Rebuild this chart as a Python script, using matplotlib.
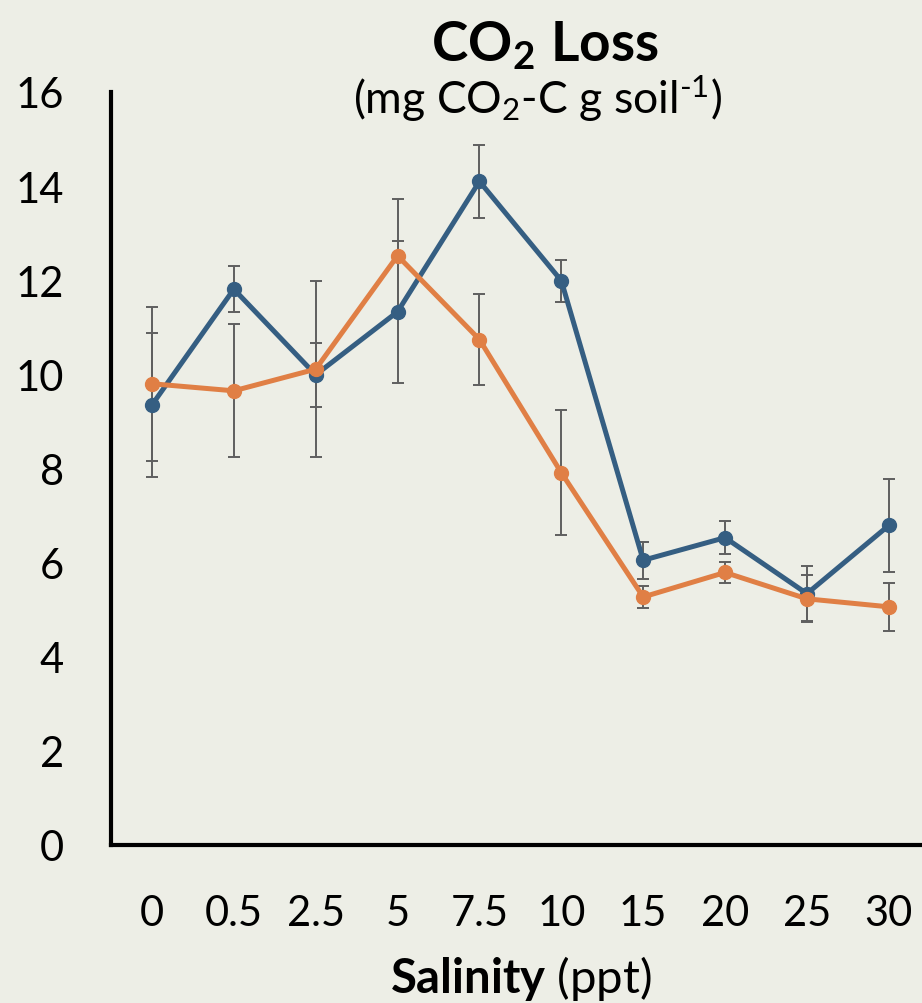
import matplotlib
matplotlib.use("Agg")
import matplotlib.pyplot as plt
import numpy

# salinity treatments (ppt), shown as categories
salinity = ["0", "0.5", "2.5", "5", "7.5", "10", "15", "20", "25", "30"]

# CO2 loss, mg CO2-C per g soil
blue_vals = [9.35, 11.81, 9.99, 11.33, 14.10, 11.99, 6.05, 6.53, 5.34, 6.79]
blue_err = [1.53, 0.49, 0.68, 1.51, 0.77, 0.45, 0.39, 0.35, 0.59, 0.98]
orange_vals = [9.80, 9.65, 10.11, 12.52, 10.74, 7.91, 5.27, 5.79, 5.23, 5.06]
orange_err = [1.64, 1.41, 1.87, 1.21, 0.97, 1.33, 0.23, 0.23, 0.50, 0.51]

yticks = [0, 2, 4, 6, 8, 10, 12, 14, 16]

bg = "#EDEEE6"
blue = "#355E82"
orange = "#E07F45"
errc = "#5F5F5F"

plt.rcParams['font.family'] = ['Lato', 'DejaVu Sans']
plt.rcParams['mathtext.fontset'] = 'custom'
plt.rcParams['mathtext.rm'] = 'Lato'
plt.rcParams['mathtext.bf'] = 'Lato:bold'
plt.rcParams['mathtext.it'] = 'Lato:italic'

fig = plt.figure(figsize=(9.22, 10.04), dpi=100)
fig.patch.set_facecolor(bg)
ax = fig.add_axes([0.1204, 0.1574, 0.888, 0.75])
ax.set_facecolor(bg)

x = numpy.arange(len(salinity))

ax.errorbar(x, blue_vals, yerr=blue_err, fmt='none', ecolor=errc,
            elinewidth=1.4, capsize=4.3, capthick=1.4, zorder=2)
ax.errorbar(x, orange_vals, yerr=orange_err, fmt='none', ecolor=errc,
            elinewidth=1.4, capsize=4.3, capthick=1.4, zorder=2)
ax.plot(x, blue_vals, '-o', color=blue, lw=3.6, ms=10, zorder=3)
ax.plot(x, orange_vals, '-o', color=orange, lw=3.6, ms=10, zorder=4)

ax.set_xlim(-0.5, 9.5)
ax.set_ylim(0, 16)
ax.set_xticks(x)
ax.set_xticklabels(salinity)
ax.set_yticks(yticks)
ax.tick_params(axis='both', length=0, labelsize=30)
ax.tick_params(axis='x', pad=35)
ax.tick_params(axis='y', pad=34)

for s in ['top', 'right']:
    ax.spines[s].set_visible(False)
for s in ['left', 'bottom']:
    ax.spines[s].set_linewidth(3)
    ax.spines[s].set_color('black')

fig.text(0.591, 0.939, r"$\mathbf{CO_2\ Loss}$", ha='center', va='baseline', fontsize=39.5)
fig.text(0.583, 0.886, r"(mg CO$_2$-C g soil$^{\text{-1}}$)", ha='center', va='baseline', fontsize=32)
fig.text(0.565, 0.011, r"$\mathbf{Salinity}$ (ppt)", ha='center', va='baseline', fontsize=34)

fig.savefig("out.png", dpi=100, facecolor=bg)
